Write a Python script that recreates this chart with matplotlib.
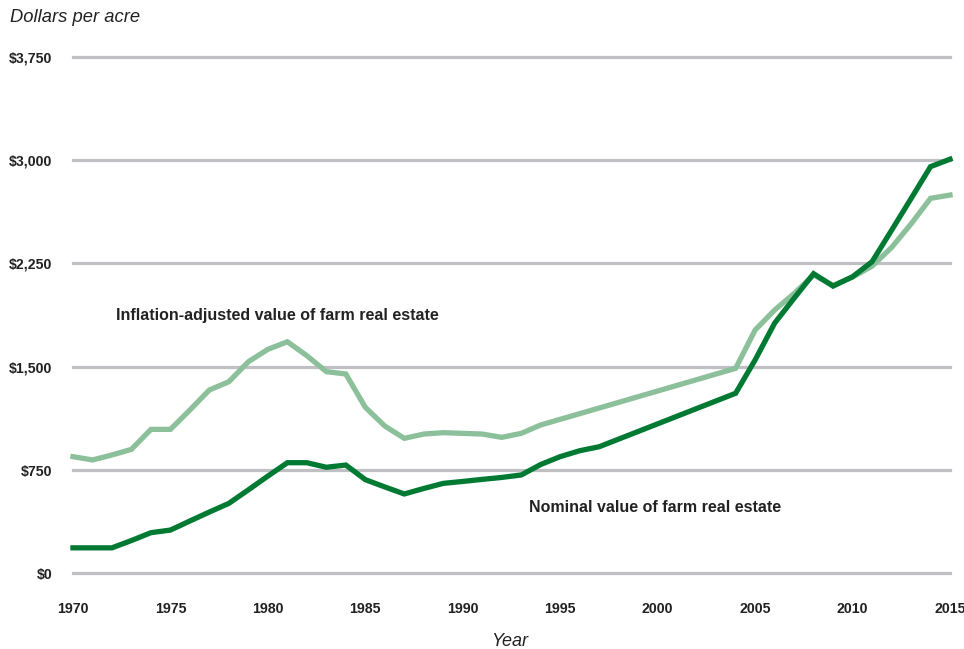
import matplotlib
matplotlib.use("Agg")
import matplotlib.pyplot as plt
from matplotlib.ticker import FuncFormatter

# farm real estate, dollars per acre
years = list(range(1970, 1998)) + list(range(2004, 2016))
nominal = [185, 185, 185, 238, 295, 314, 380, 445, 508, 606,
           706, 803, 803, 770, 786, 680, 627, 576, 616, 653,
           667, 682, 696, 714, 790, 847, 890, 919,
           1307, 1549, 1816, 1997, 2175, 2085, 2153, 2262, 2490, 2720, 2952, 3006]
real = [847, 823, 859, 900, 1045, 1045, 1186, 1331, 1391, 1536,
        1626, 1681, 1580, 1464, 1447, 1205, 1069, 980, 1011, 1021,
        1016, 1011, 987, 1016, 1077, 1118, 1159, 1200,
        1488, 1766, 1911, 2031, 2166, 2090, 2150, 2230, 2365, 2536, 2722, 2746]

yticks = [0, 750, 1500, 2250, 3000, 3750]
xticks = list(range(1970, 2016, 5))

DARK, LIGHT, GRID, INK = "#007a33", "#8cc09a", "#c0c0c4", "#222222"
plt.rcParams["font.family"] = ["Liberation Sans", "DejaVu Sans"]

fig = plt.figure(figsize=(9.64, 6.49), dpi=100)
ax = fig.add_axes([0.0757, 0.1166, 0.9098, 0.796])

for y in yticks:
    ax.axhline(y, color=GRID, lw=2.3, zorder=1, clip_on=False)

ax.plot(years, real, color=LIGHT, lw=3.8, solid_joinstyle="miter", zorder=3, clip_on=False)
ax.plot(years, nominal, color=DARK, lw=3.8, solid_joinstyle="miter", zorder=4, clip_on=False)

ax.set_xlim(1970, 2015)
ax.set_ylim(0, 3750)
ax.set_xticks(xticks)
ax.set_yticks(yticks)
ax.yaxis.set_major_formatter(FuncFormatter(lambda v, p: f"${v:,.0f}"))
ax.tick_params(length=0)
ax.tick_params(axis="y", pad=15)
ax.tick_params(axis="x", pad=21)
for lab in ax.get_xticklabels() + ax.get_yticklabels():
    lab.set_fontweight("bold")
    lab.set_fontsize(10.2)
    lab.set_color(INK)
for s in ax.spines.values():
    s.set_visible(False)

ax.text(1972.2, 1868, "Inflation-adjusted value of farm real estate", fontsize=11.5,
        fontweight="bold", color=INK, va="center", ha="left")
ax.text(1993.4, 481, "Nominal value of farm real estate", fontsize=11.5,
        fontweight="bold", color=INK, va="center", ha="left")

fig.text(10 / 964, 1 - 17 / 649, "Dollars per acre", fontsize=13.2, style="italic",
         color=INK, va="center", ha="left")
fig.text(510 / 964, 1 - 642 / 649, "Year", fontsize=13, style="italic",
         color=INK, va="center", ha="center")

fig.savefig("out.png", dpi=100)
